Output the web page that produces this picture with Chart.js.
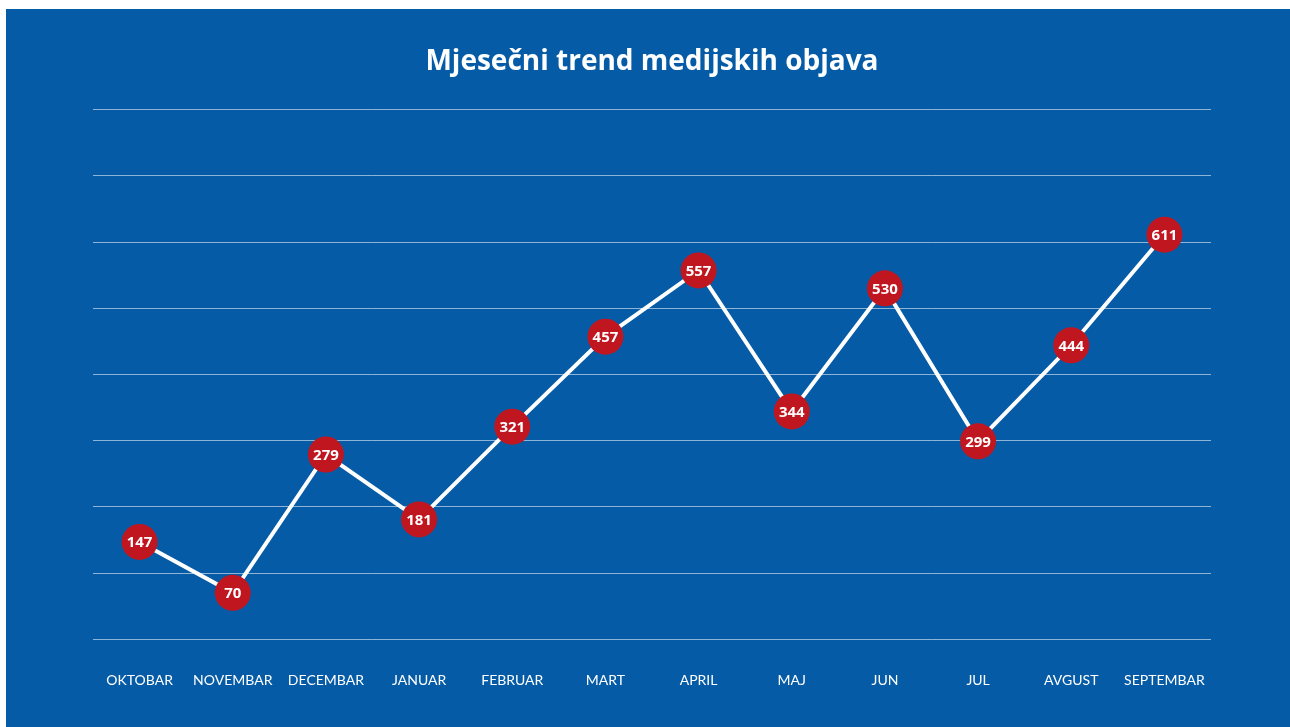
<!DOCTYPE html>
<html>
<head>
<meta charset="utf-8">
<script src="https://cdn.jsdelivr.net/npm/chart.js@4/dist/chart.umd.min.js"></script>
<style>
  html, body { margin: 0; padding: 0; background: #ffffff; }
  #wrap { position: absolute; left: 6px; top: 9px; width: 1284px; height: 718px; background: #055ba6; }
</style>
</head>
<body>
<div id="wrap"><canvas id="c" width="1284" height="718"></canvas></div>
<script>
const months = ["OKTOBAR","NOVEMBAR","DECEMBAR","JANUAR","FEBRUAR","MART","APRIL","MAJ","JUN","JUL","AVGUST","SEPTEMBAR"];
const posts = [147, 70, 279, 181, 321, 457, 557, 344, 530, 299, 444, 611];
const yTicks = [0, 100, 200, 300, 400, 500, 600, 700, 800];
const chartTitle = "Mjesečni trend medijskih objava";

const FONT = "Lato, 'Open Sans', sans-serif";
const BOLDFONT = "'Open Sans', Lato, sans-serif";

const pointLabels = {
  id: 'pointLabels',
  afterDatasetsDraw(chart) {
    const ctx = chart.ctx;
    const meta = chart.getDatasetMeta(0);
    ctx.save();
    ctx.fillStyle = '#ffffff';
    ctx.font = 'bold 15px ' + BOLDFONT;
    ctx.textAlign = 'center';
    ctx.textBaseline = 'middle';
    meta.data.forEach((pt, i) => {
      ctx.fillText(String(chart.data.datasets[0].data[i]), pt.x, pt.y + 1);
    });
    ctx.restore();
  }
};

new Chart(document.getElementById('c'), {
  type: 'line',
  data: {
    labels: months,
    datasets: [{
      data: posts,
      borderColor: '#ffffff',
      borderWidth: 4,
      tension: 0,
      pointRadius: 18,
      pointHoverRadius: 18,
      pointBackgroundColor: '#c0161f',
      pointBorderColor: '#c0161f',
      pointBorderWidth: 0,
      fill: false
    }]
  },
  options: {
    responsive: false,
    animation: false,
    events: [],
    layout: { padding: { left: 87, right: 79, top: 0, bottom: 5 } },
    plugins: {
      legend: { display: false },
      tooltip: { enabled: false },
      title: {
        display: true,
        text: chartTitle,
        color: '#ffffff',
        font: { family: BOLDFONT, size: 28, weight: 'bold' },
        padding: { top: 36, bottom: 31 }
      }
    },
    scales: {
      x: {
        offset: true,
        grid: { display: false, drawTicks: false },
        border: { display: false },
        ticks: {
          color: '#ffffff',
          font: { family: FONT, size: 14 },
          padding: 33,
          maxRotation: 0,
          autoSkip: false
        }
      },
      y: {
        min: 0,
        max: 800,
        afterBuildTicks(scale) { scale.ticks = yTicks.map(v => ({ value: v })); },
        grid: { color: 'rgba(255,255,255,0.55)', lineWidth: 1, drawTicks: false },
        border: { display: false },
        ticks: { display: false }
      }
    }
  },
  plugins: [pointLabels]
});
</script>
</body>
</html>
